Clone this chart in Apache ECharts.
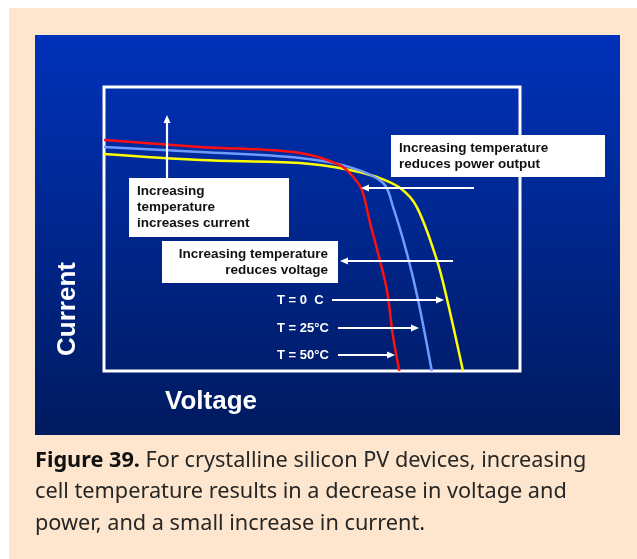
<!DOCTYPE html>
<html>
<head>
<meta charset="utf-8">
<script src="https://cdn.jsdelivr.net/npm/echarts@6/dist/echarts.min.js"></script>
<style>
  html, body { margin: 0; padding: 0; background: #fff; }
  #chart { width: 637px; height: 559px; }
</style>
</head>
<body>
<div id="chart"></div>
<script>
// I-V curves (voltage and current in arbitrary 0-100 units)
const t0Voltage = [0, 23.1, 47.1, 59.1, 65.6, 71.2, 75.2, 80.0, 82.5, 86.3];
const t0Current = [76.4, 74.3, 73.2, 70.8, 68.3, 64.4, 57.7, 39.1, 25.0, 0];
const t25Voltage = [0, 23.1, 47.1, 59.1, 67.1, 69.5, 72.8, 75.5, 78.8];
const t25Current = [78.9, 77.1, 75.0, 71.8, 66.2, 57.7, 41.5, 25.0, 0];
const t50Voltage = [0, 23.1, 47.1, 56.7, 59.9, 62.0, 63.9, 66.3, 68.0, 69.5, 71.0];
const t50Current = [81.3, 78.9, 76.8, 72.5, 68.3, 63.7, 52.5, 39.1, 28.5, 12.0, 0];

const seriesNames = ['T = 0  C', 'T = 25°C', 'T = 50°C'];
const seriesColors = ['#ffff00', '#6f9cff', '#ff1010'];

const pairs = (xs, ys) => xs.map((x, i) => [x, ys[i]]);

const font = '"Liberation Sans", Arial, sans-serif';
const captionFont = '"Noto Sans", sans-serif';

function arrow(x1, y1, x2, y2) {
    // shaft plus a small triangular head at (x2, y2)
    const dx = x2 - x1, dy = y2 - y1;
    const len = Math.sqrt(dx * dx + dy * dy);
    const ux = dx / len, uy = dy / len;
    const hl = 8, hw = 3.5;
    const bx = x2 - ux * hl, by = y2 - uy * hl;
    return [
        {
            type: 'polyline', z: 50,
            shape: {points: [[x1, y1], [bx, by]]},
            style: {stroke: '#fff', lineWidth: 2.2}
        },
        {
            type: 'polygon', z: 50,
            shape: {points: [[x2, y2], [bx - uy * hw, by + ux * hw], [bx + uy * hw, by - ux * hw]]},
            style: {fill: '#fff'}
        }
    ];
}

function box(x, y, w, h, lines, align) {
    const tx = align === 'right' ? x + w - 10 : x + 8;
    return [
        {
            type: 'rect', z: 40,
            shape: {x: x, y: y, width: w, height: h},
            style: {fill: '#fff'}
        },
        {
            type: 'text', z: 41,
            x: tx, y: y + h / 2,
            style: {
                text: lines.join('\n'),
                fill: '#111',
                font: 'bold 13.5px ' + font,
                lineHeight: 16,
                align: align,
                verticalAlign: 'middle'
            }
        }
    ];
}

const initChart = () => {
    let dom = document.getElementById('chart');
    let myChart = echarts.init(dom, null, {renderer: 'canvas'});

    const elements = [
        {type: 'rect', z: -30, shape: {x: 0, y: 0, width: 637, height: 559}, style: {fill: '#fff'}},
        {type: 'rect', z: -20, shape: {x: 9, y: 8, width: 628, height: 551}, style: {fill: '#fde6cd'}},
        {
            type: 'rect', z: -10,
            shape: {x: 35, y: 35, width: 585, height: 400},
            style: {
                fill: new echarts.graphic.LinearGradient(0, 0, 0, 1, [
                    {offset: 0, color: '#0032ba'},
                    {offset: 1, color: '#001a5f'}
                ])
            }
        },
        {
            type: 'text', z: 60, x: 68, y: 309, rotation: Math.PI / 2,
            style: {text: 'Current', fill: '#fff', font: 'bold 26px ' + font, align: 'center', verticalAlign: 'middle'}
        },
        {
            type: 'text', z: 60, x: 211, y: 402,
            style: {text: 'Voltage', fill: '#fff', font: 'bold 26px ' + font, align: 'center', verticalAlign: 'middle'}
        },
        {
            type: 'text', z: 60, x: 35, y: 445,
            style: {
                text: '{b|Figure 39.} For crystalline silicon PV devices, increasing\ncell temperature results in a decrease in voltage and\npower, and a small increase in current.',
                fill: '#262626',
                font: '21.7px ' + captionFont,
                lineHeight: 31.5,
                rich: {b: {font: 'bold 21.7px ' + captionFont, fill: '#111'}}
            }
        }
    ];

    elements.push(...box(129, 178, 160, 59, ['Increasing', 'temperature', 'increases current'], 'left'));
    elements.push(...box(391, 135, 214, 42, ['Increasing temperature', 'reduces power output'], 'left'));
    elements.push(...box(162, 241, 176, 42, ['Increasing temperature', 'reduces voltage'], 'right'));

    elements.push(...arrow(167, 178, 167, 115));
    elements.push(...arrow(474, 188, 361, 188));
    elements.push(...arrow(453, 261, 340, 261));
    elements.push(...arrow(332, 300, 444, 300));
    elements.push(...arrow(338, 328, 419, 328));
    elements.push(...arrow(338, 355, 395, 355));

    const labelY = [300, 328, 355];
    seriesNames.forEach((name, i) => {
        elements.push({
            type: 'text', z: 60, x: 277, y: labelY[i],
            style: {text: name, fill: '#fff', font: 'bold 13px ' + font, verticalAlign: 'middle'}
        });
    });

    const curveData = [
        pairs(t0Voltage, t0Current),
        pairs(t25Voltage, t25Current),
        pairs(t50Voltage, t50Current)
    ];

    let option = {
        animation: false,
        graphic: {elements: elements},
        grid: {
            left: 104, top: 87, width: 416, height: 284,
            show: true, borderColor: '#fff', borderWidth: 3,
            backgroundColor: 'transparent'
        },
        xAxis: {type: 'value', min: 0, max: 100, show: false},
        yAxis: {type: 'value', min: 0, max: 100, show: false},
        series: curveData.map((d, i) => ({
            name: seriesNames[i],
            type: 'line',
            data: d,
            smooth: 0.35,
            showSymbol: false,
            clip: false,
            z: 5,
            lineStyle: {color: seriesColors[i], width: 2.5}
        }))
    };
    myChart.setOption(option);
};

initChart();
</script>
</body>
</html>
